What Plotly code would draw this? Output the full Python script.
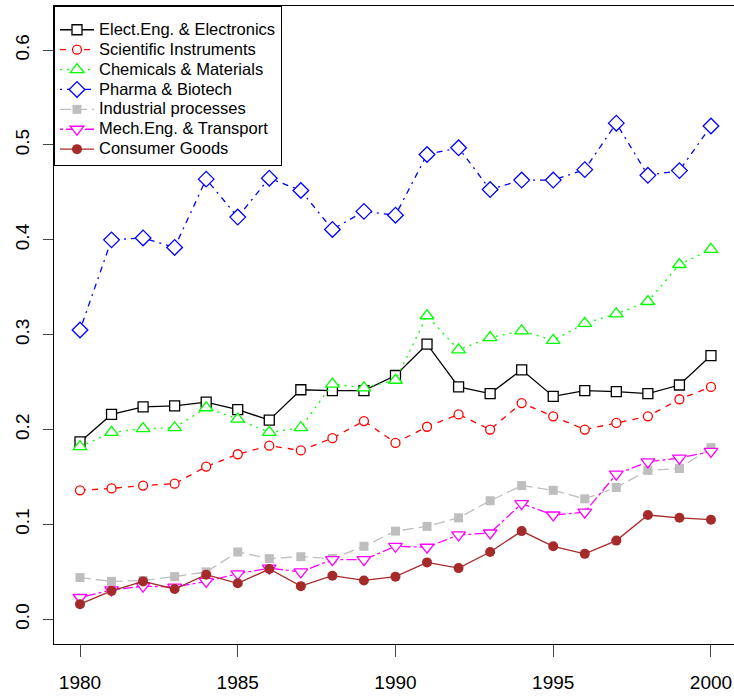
import plotly.graph_objects as go

years = list(range(1980, 2001))

elect_eng = [0.187, 0.216, 0.224, 0.225, 0.229, 0.221, 0.210, 0.242, 0.241, 0.241, 0.257,
             0.290, 0.245, 0.238, 0.263, 0.235, 0.241, 0.240, 0.238, 0.247, 0.278]
scientific = [0.136, 0.138, 0.141, 0.143, 0.161, 0.174, 0.183, 0.178, 0.191, 0.209, 0.186,
              0.203, 0.216, 0.200, 0.228, 0.214, 0.200, 0.207, 0.214, 0.232, 0.245]
chemicals = [0.182, 0.197, 0.201, 0.202, 0.223, 0.211, 0.197, 0.202, 0.248, 0.244, 0.252,
             0.320, 0.284, 0.297, 0.304, 0.294, 0.312, 0.322, 0.335, 0.374, 0.390]
pharma = [0.305, 0.400, 0.402, 0.392, 0.464, 0.424, 0.465, 0.452, 0.411, 0.430, 0.426,
          0.490, 0.497, 0.453, 0.463, 0.463, 0.474, 0.523, 0.468, 0.473, 0.520]
industrial = [0.044, 0.040, 0.041, 0.045, 0.050, 0.071, 0.064, 0.066, 0.064, 0.077, 0.093,
              0.098, 0.107, 0.125, 0.141, 0.136, 0.127, 0.139, 0.157, 0.159, 0.181]
mech_eng = [0.023, 0.031, 0.035, 0.034, 0.040, 0.048, 0.054, 0.050, 0.063, 0.063, 0.077,
            0.076, 0.089, 0.091, 0.122, 0.110, 0.113, 0.153, 0.166, 0.170, 0.177]
consumer = [0.016, 0.030, 0.040, 0.032, 0.047, 0.038, 0.053, 0.035, 0.046, 0.041, 0.045,
            0.060, 0.054, 0.071, 0.093, 0.077, 0.069, 0.083, 0.110, 0.107, 0.105]

series_names = ["Elect.Eng. & Electronics", "Scientific Instruments", "Chemicals & Materials",
                "Pharma & Biotech", "Industrial processes", "Mech.Eng. & Transport",
                "Consumer Goods"]
series_values = [elect_eng, scientific, chemicals, pharma, industrial, mech_eng, consumer]

y_tick_vals = [0.0, 0.1, 0.2, 0.3, 0.4, 0.5, 0.6]
y_tick_text = ["0.0", "0.1", "0.2", "0.3", "0.4", "0.5", "0.6"]
x_tick_vals = [1980, 1985, 1990, 1995, 2000]

# colour, dash pattern, marker symbol, marker size, filled?
styles = [
    ("#000000", "solid", "square", 10, False),
    ("#FF0000", "6px,6px", "circle", 9, False),
    ("#00FF00", "2px,5px", "triangle-up", 12, False),
    ("#0000FF", "2px,5px,6px,5px", "diamond", 12, False),
    ("#BEBEBE", "11px,5px", "square", 9, True),
    ("#FF00FF", "3px,3px,10px,3px", "triangle-down", 12, False),
    ("#A52A2A", "solid", "circle", 10, True),
]

fig = go.Figure()
for name, vals, (color, dash, symbol, size, filled) in zip(series_names, series_values, styles):
    fig.add_trace(go.Scatter(
        x=years, y=vals,
        # larger label text inside a compact legend row
        name=f'<span style="font-size:16.5px">{name}</span>',
        mode="lines+markers",
        line=dict(color=color, width=1.3, dash=dash),
        marker=dict(symbol=symbol, size=size,
                    color=color if filled else "white",
                    line=dict(color=color, width=0 if filled else 1.3)),
    ))

font_family = "Liberation Sans, Arial, sans-serif"

fig.update_layout(
    width=734, height=697,
    margin=dict(l=54, r=0, t=6, b=53),
    paper_bgcolor="white", plot_bgcolor="white",
    font=dict(family=font_family, color="black"),
    showlegend=True,
    legend=dict(
        x=0, y=1, xanchor="left", yanchor="top",
        bgcolor="white", bordercolor="black", borderwidth=1,
        font=dict(size=13, family=font_family, color="black"),
        title=dict(text=" ", font=dict(size=6)),
        tracegroupgap=0, itemwidth=34,
    ),
)

fig.update_xaxes(
    range=[1979.176, 2000.73],
    tickvals=x_tick_vals, ticktext=[str(v) for v in x_tick_vals],
    ticks="outside", ticklen=12, tickcolor="#444444", tickwidth=1,
    tickfont=dict(size=19, family=font_family, color="black"),
    ticklabelstandoff=9,
    showgrid=False, zeroline=False,
    showline=True, linecolor="black", linewidth=1.3, mirror=True,
)
fig.update_yaxes(
    range=[-0.026, 0.6465],
    tickvals=y_tick_vals, ticktext=y_tick_text, tickangle=-90,
    ticks="outside", ticklen=10, tickcolor="#444444", tickwidth=1,
    tickfont=dict(size=19, family=font_family, color="black"),
    ticklabelstandoff=6,
    showgrid=False, zeroline=False,
    showline=True, linecolor="black", linewidth=1.3, mirror=False,
)

fig.write_html("out.html")
